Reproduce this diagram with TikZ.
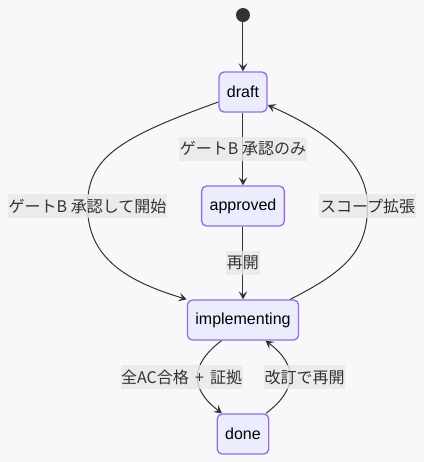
\documentclass[tikz,border=0pt]{standalone}
\usepackage{fontspec}
\setmainfont{Liberation Sans}
\newfontfamily\jpfont{Noto Sans CJK JP}
\usetikzlibrary{arrows.meta, positioning}

\definecolor{bgcol}{HTML}{F8F8FA}
\definecolor{statefill}{HTML}{ECECFF}
\definecolor{statedraw}{HTML}{9370DB}
\definecolor{condfill}{HTML}{E8E8E8}
\definecolor{linecol}{HTML}{333333}

\begin{document}
\begin{tikzpicture}[
    x=0.75pt, y=-0.75pt,
    % styles of the states and transitions
    init/.style={circle, fill=linecol, minimum size=10.5pt, inner sep=0pt},
    state/.style={rectangle, rounded corners=3.75pt, draw=statedraw, line width=1pt, fill=statefill, minimum height=30pt, inner xsep=6pt, font=\fontsize{12}{14}\selectfont},
    cond/.style={fill=condfill, fill opacity=0.8, text opacity=1, text=linecol, inner xsep=0.4pt, inner ysep=0pt, minimum height=17.5pt, font=\jpfont\fontsize{12}{14}\selectfont},
    arrow/.style={-{Stealth[length=6pt, width=6.5pt, inset=2.5pt]}, draw=linecol, line width=0.75pt},
    node distance=54.5pt
]

% background and margins
\fill[bgcol] (0,0) rectangle (424,462);
\useasboundingbox (0,0) rectangle (424,462);

% start point
\node (init) [init] at (243,15) {};

% states
\node (draft) [state, below=36.8pt of init] {draft};
\node (approved) [state, below=of draft] {approved};
\node (implementing) [state, below=of approved] {implementing};
\node (done) [state, below=of implementing] {done};

% points the side curves pass through
\coordinate (viaL) at ([xshift=-116.6pt]approved.center);
\coordinate (viaR) at ([xshift=93.4pt]approved.center);

% --- transitions ---
\draw [arrow] (init) -- (draft);
\draw [arrow] (draft) -- node [cond] (lblonly) {ゲートB 承認のみ} (approved);
\draw [arrow] (approved) -- node [cond] (lblresume) {再開} (implementing);

\draw [arrow] ([yshift=-7.5pt]draft.west) .. controls +(-100,36) and +(0,-48) .. (viaL) node [cond] (lblstart) {ゲートB 承認して開始}
    .. controls +(0,52) and +(-60,-18) .. (implementing.north west);
\draw [arrow] ([xshift=-6.75pt]implementing.north east) .. controls +(55,-28) and +(0,45) .. (viaR) node [cond] (lblscope) {スコープ拡張}
    .. controls +(0,-48) and +(50,22) .. ([yshift=-9.75pt]draft.east);

\draw [arrow] ([xshift=-16.1pt]implementing.south) .. controls +(-32,24) and +(-32,-24) .. ([xshift=-15.75pt]done.north);
\draw [arrow] ([xshift=17.25pt]done.north) .. controls +(32,-24) and +(32,24) .. ([xshift=16.9pt]implementing.south);

% labels of the bottom pair
\path (implementing) -- node [cond, anchor=east] (lblpass) {全AC合格\kern2pt{} + \kern2pt証拠} (done);
\path (implementing) -- node [cond, anchor=west, xshift=15.6pt] (lblrevise) {改訂で再開} (done);

\end{tikzpicture}
\end{document}
